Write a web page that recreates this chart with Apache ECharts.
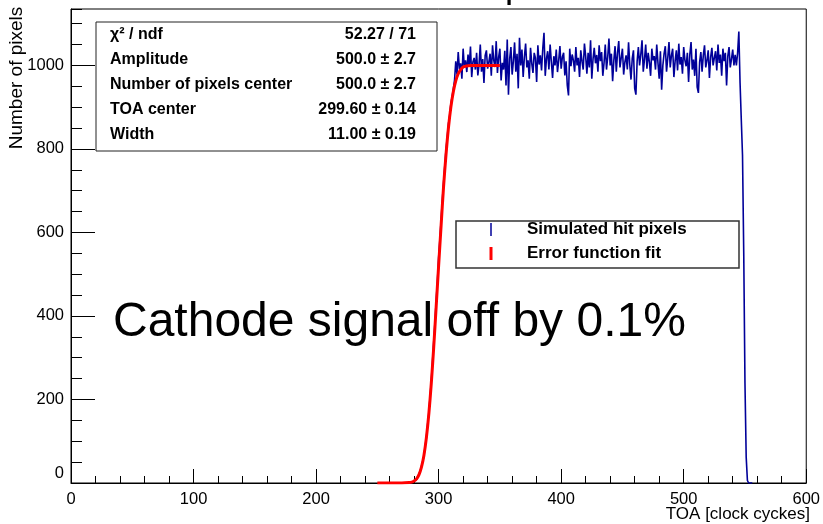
<!DOCTYPE html>
<html><head><meta charset="utf-8">
<script src="https://cdn.jsdelivr.net/npm/echarts@6/dist/echarts.min.js"></script>
<style>html,body{margin:0;padding:0;background:#fff}#c{width:823px;height:524px}</style>
</head><body><div id="c"></div>
<script>
const FONT = '"Liberation Sans", Arial, Helvetica, sans-serif';

// Histogram: first bin low edge, bin width 1 clock cycle
const histStart = 275;
const histCounts = [
  0,0,1,3,4,5,8,11,16,21,29,40,52,64,88,108,140,168,205,243,290,338,384,436,482,540,582,628,676,718,758,797,826,860,880,908,925,944,
  965,1010,978,1032,990,1005,968,1040,995,1012,
  984,1026,998,1045,972,1008,1018,990,1030,976,
  1002,1050,985,1015,958,1024,1036,992,1008,1028,
  975,1048,1012,996,1058,982,1020,1040,964,1006,
  990,1035,952,1062,930,1016,1044,978,1010,1055,
  985,1028,945,1066,1000,1038,972,1020,1052,995,
  1012,968,1042,1005,982,1030,1018,960,1048,1002,
  1024,988,1040,1078,975,1016,1034,990,1050,1008,
  970,1022,1000,1038,984,1012,1046,992,1020,1030,
  976,1010,952,928,1040,998,1026,1012,985,1044,
  1000,1018,972,1036,1010,990,1052,1022,980,1030,
  995,1060,968,1015,1042,1005,1025,985,1048,1010,
  1032,975,1006,1050,990,1020,1064,1000,1028,962,
  1012,1046,985,1030,1058,995,1018,1040,978,1008,
  1024,990,1055,1002,966,1016,1036,945,930,1010,
  1044,1000,1026,1060,985,1014,1050,992,1030,1008,
  975,1040,1012,1022,990,1050,1006,968,1034,942,
  1000,1028,1046,985,1018,1056,995,1024,1040,972,
  1010,1036,988,1052,1002,1020,980,1044,1012,998,
  1030,960,1026,1056,990,1014,975,1040,948,934,
  1008,1032,985,1024,1048,995,1012,1036,970,1020,
  1042,1000,1018,1034,988,1050,1006,1026,975,1040,
  1010,1030,952,1022,1044,995,1015,1038,1000,1025,
  1000,1030,1081,958,870,785,551,240,62,6,0,0,0,0
];

// Error function fit curve
const fitX = [250,270,276,278,280,282,284,286,288,290,292,294,296,298,300,302,304,306,308,310,312,314,316,318,320,322,326,350];
const fitY = [0,0,1,2,5,10,20,38,66,108,165,238,325,422,520,615,708,785,850,900,937,963,980,990,996,998,1000,1000];

const xTickStep = 100, xMax = 600;
const yTickStep = 200, yMinorStep = 50, yMax = 1135;

const statLabels = ['χ² / ndf', 'Amplitude', 'Number of pixels center', 'TOA center', 'Width'];
const statValues = ['52.27 / 71', '500.0 ± 2.7', '500.0 ± 2.7', '299.60 ± 0.14', '11.00 ± 0.19'];
const legendNames = ['Simulated hit pixels', 'Error function fit'];
const annotation = 'Cathode signal off by 0.1%';
const xTitle = 'TOA [clock cyckes]';
const yTitle = 'Number of pixels';

const histData = histCounts.map((v, i) => [histStart + i + 0.5, v]);
const fitData = fitX.map((x, i) => [x, fitY[i]]);

const chart = echarts.init(document.getElementById('c'), null, {renderer: 'canvas'});

const graphics = [];
// stats box
graphics.push({type: 'rect', z: 100, shape: {x: 96, y: 22, width: 341, height: 129},
  style: {fill: '#fff', stroke: '#222', lineWidth: 1}});
statLabels.forEach((t, i) => {
  const y = 35 + i * 25;
  graphics.push({type: 'text', z: 101, x: 110, y: y,
    style: {text: t, font: 'bold 16px ' + FONT, fill: '#000', align: 'left', verticalAlign: 'middle'}});
  graphics.push({type: 'text', z: 101, x: 416, y: y,
    style: {text: statValues[i], font: 'bold 16px ' + FONT, fill: '#000', align: 'right', verticalAlign: 'middle'}});
});
// legend box
graphics.push({type: 'rect', z: 100, shape: {x: 456, y: 221, width: 283, height: 47},
  style: {fill: '#fff', stroke: '#333', lineWidth: 1.5}});
graphics.push({type: 'line', z: 101, shape: {x1: 491, y1: 223, x2: 491, y2: 236},
  style: {stroke: '#000099', lineWidth: 1.5}});
graphics.push({type: 'line', z: 101, shape: {x1: 491, y1: 247, x2: 491, y2: 260},
  style: {stroke: '#ff0000', lineWidth: 3}});
legendNames.forEach((t, i) => {
  graphics.push({type: 'text', z: 101, x: 527, y: 229 + i * 24,
    style: {text: t, font: 'bold 17px ' + FONT, fill: '#000', align: 'left', verticalAlign: 'middle'}});
});
// annotation
graphics.push({type: 'text', z: 90, x: 113, y: 323,
  style: {text: annotation, font: '48px ' + FONT, fill: '#000', align: 'left', verticalAlign: 'middle'}});
// axis titles
graphics.push({type: 'text', z: 90, x: 810, y: 514,
  style: {text: xTitle, font: '17px ' + FONT, fill: '#000', align: 'right', verticalAlign: 'middle'}});
graphics.push({type: 'text', z: 90, x: 17, y: 78, rotation: Math.PI / 2,
  style: {text: yTitle, font: '19px ' + FONT, fill: '#000', align: 'center', verticalAlign: 'middle'}});
// clipped title fragment
graphics.push({type: 'text', z: 90, x: 513, y: -19,
  style: {text: 'p', font: 'bold 24px ' + FONT, fill: '#000', align: 'center', verticalAlign: 'top'}});

const labelStyle = {color: '#000', fontFamily: FONT, fontSize: 16.5};

chart.setOption({
  animation: false,
  backgroundColor: '#fff',
  grid: {left: 71, right: 13, top: 9, bottom: 41, show: true, borderColor: '#000', borderWidth: 1, backgroundColor: 'transparent'},
  xAxis: {
    type: 'value', min: 0, max: xMax, interval: xTickStep,
    axisLine: {show: true, lineStyle: {color: '#000', width: 1}},
    axisTick: {show: true, inside: true, length: 14, lineStyle: {color: '#000', width: 1}},
    minorTick: {show: true, splitNumber: 5, length: 7, lineStyle: {color: '#000', width: 1}},
    splitLine: {show: false},
    axisLabel: Object.assign({margin: 8}, labelStyle)
  },
  yAxis: [{
    type: 'value', min: 0, max: yMax, interval: yTickStep,
    axisLine: {show: true, lineStyle: {color: '#000', width: 1}},
    axisTick: {show: true, inside: true, length: 24, lineStyle: {color: '#000', width: 1}},
    splitLine: {show: false},
    axisLabel: Object.assign({margin: 7, showMaxLabel: false,
      formatter: v => v === 0 ? '{z|0}' : String(v),
      rich: {z: {color: '#000', fontFamily: FONT, fontSize: 16.5, padding: [0, 0, 20, 0]}}}, labelStyle)
  }, {
    type: 'value', min: 0, max: yMax, interval: yMinorStep, position: 'left',
    axisLine: {show: false},
    axisTick: {show: true, inside: true, length: 11, lineStyle: {color: '#000', width: 1}},
    splitLine: {show: false},
    axisLabel: {show: false}
  }],
  graphic: graphics,
  series: [{
    type: 'line', name: legendNames[0], data: histData, step: 'middle', showSymbol: false,
    lineStyle: {color: '#000099', width: 1.6}, z: 2, clip: true
  }, {
    type: 'line', name: legendNames[1], data: fitData, smooth: 0.3, showSymbol: false,
    lineStyle: {color: '#ff0000', width: 3}, z: 3, clip: true
  }]
});
</script>
</body></html>
